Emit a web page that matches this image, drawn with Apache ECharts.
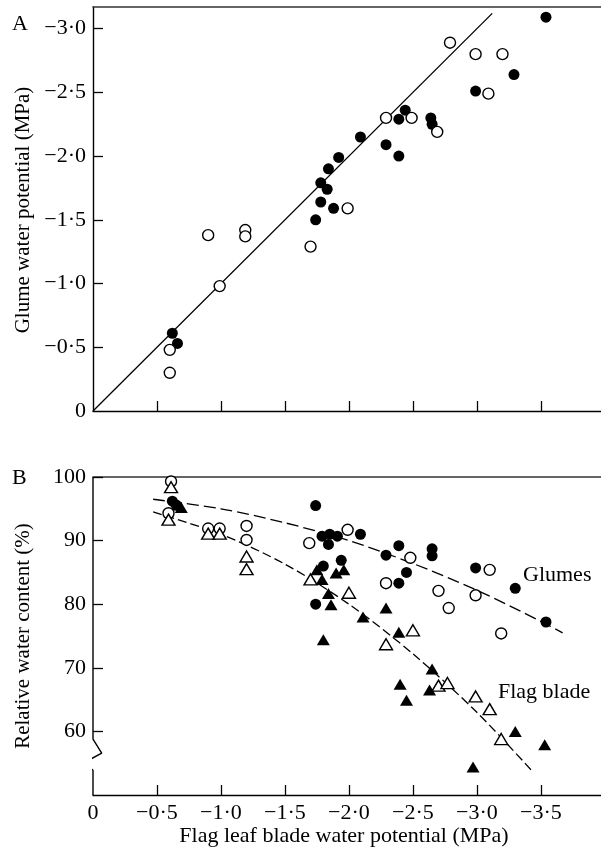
<!DOCTYPE html>
<html><head><meta charset="utf-8">
<script src="https://cdn.jsdelivr.net/npm/echarts@6/dist/echarts.min.js"></script>
<style>html,body{margin:0;padding:0;background:#fff}#c{width:601px;height:852px}</style>
</head><body><div id="c"></div>
<script>
// Panel A: flag leaf blade water potential (MPa) vs glume water potential (MPa)
const aFilled = [[-3.54,-3.09],[-3.29,-2.64],[-2.99,-2.51],[-2.44,-2.36],[-2.39,-2.29],[-2.64,-2.30],[-2.65,-2.25],[-2.09,-2.15],[-2.29,-2.09],[-2.39,-2.00],[-1.92,-1.99],[-1.84,-1.90],[-1.78,-1.79],[-1.83,-1.74],[-1.78,-1.64],[-1.88,-1.59],[-1.74,-1.50],[-0.62,-0.61],[-0.66,-0.53]];
const aOpen = [[-2.79,-2.89],[-2.99,-2.80],[-3.20,-2.80],[-3.09,-2.49],[-2.29,-2.30],[-2.49,-2.30],[-2.69,-2.19],[-1.99,-1.59],[-1.70,-1.29],[-0.90,-1.38],[-1.19,-1.42],[-1.19,-1.37],[-0.99,-0.98],[-0.60,-0.48],[-0.60,-0.30]];
const aOneToOne = [[0,0],[-3.12,-3.12]];
// Panel B: flag leaf blade water potential (MPa) vs relative water content (%)
const bGlumeFilled = [[-0.62,96.2],[-0.65,95.6],[-1.74,95.5],[-1.79,90.7],[-1.85,91.0],[-1.91,90.7],[-1.84,89.4],[-2.09,91.0],[-2.39,89.2],[-2.29,87.7],[-2.65,88.7],[-2.65,87.6],[-2.45,85.0],[-2.39,83.3],[-1.94,86.9],[-1.80,86.0],[-1.74,80.0],[-2.99,85.7],[-3.30,82.5],[-3.54,77.2]];
const bGlumeOpen = [[-0.61,99.3],[-0.59,94.3],[-0.90,91.9],[-0.99,91.9],[-1.20,92.3],[-1.20,90.1],[-1.69,89.6],[-1.99,91.7],[-2.48,87.3],[-2.29,83.3],[-2.70,82.1],[-2.78,79.4],[-3.10,85.4],[-2.99,81.4],[-3.19,75.4]];
const bBladeFilled = [[-0.66,95.6],[-0.69,95.2],[-1.75,85.4],[-1.90,84.9],[-1.96,85.4],[-1.79,83.9],[-1.84,81.7],[-1.86,79.9],[-2.29,79.4],[-2.11,78.0],[-1.80,74.4],[-2.39,75.6],[-2.65,69.8],[-2.40,67.4],[-2.63,66.5],[-2.45,64.9],[-3.30,60.0],[-3.53,57.9],[-2.97,54.4]];
const bBladeOpen = [[-0.61,98.4],[-0.59,93.3],[-0.90,91.1],[-0.99,91.1],[-1.20,87.5],[-1.20,85.5],[-1.70,83.9],[-2.00,81.8],[-2.50,75.9],[-2.29,73.7],[-2.70,67.2],[-2.77,67.6],[-2.99,65.5],[-3.10,63.5],[-3.19,58.8]];
const bGlumeCurve = [[-0.47,96.5],[-1.0,95.0],[-1.5,92.8],[-2.0,90.0],[-2.5,86.4],[-3.0,82.2],[-3.5,77.3],[-3.67,75.5]];
const bBladeCurve = [[-0.47,94.5],[-1.0,91.0],[-1.5,86.3],[-2.0,80.0],[-2.5,72.2],[-3.0,63.0],[-3.43,53.8]];
// y-axis with break for panel B (x in MPa, y in %)
const bAxisBreak = [[0,100],[0,58.8],[-0.068,56.6],[0.068,55.1],[0,53.9],[0,50]];
const xTicks = [0,0.5,1,1.5,2,2.5,3,3.5];
const bYTicks = [60,70,80,90,100];

const FONT = 'Liberation Serif';
const FS = 22;
const FSV = 21;
const INK = '#000';
const fmtNeg = v => Math.abs(v) < 1e-9 ? '0' : '\u2212' + Math.abs(v).toFixed(1).replace('.', '\u00b7');
const toA = arr => arr.map(([x,y]) => [-x, -y]);
const toB = arr => arr.map(([x,y]) => [-x, y]);

const chart = echarts.init(document.getElementById('c'), null, {renderer:'canvas'});
const XMAX = 3.97;
const lineAx = {show:true, lineStyle:{color:INK, width:1.4}};
const tickIn = {show:true, inside:true, length:10, lineStyle:{color:INK, width:1.3}};
const lbl = {color:INK, fontFamily:FONT, fontSize:FS};

const filledCircle = {symbol:'circle', symbolSize:11, itemStyle:{color:'#000', opacity:1}};
const openCircle = {symbol:'circle', symbolSize:11, itemStyle:{color:'#fff', borderColor:'#000', borderWidth:1.4, opacity:1}};
const filledTri = {symbol:'triangle', symbolSize:[13,11], itemStyle:{color:'#000', opacity:1}};
const openTri = {symbol:'triangle', symbolSize:[13,11], itemStyle:{color:'#fff', borderColor:'#000', borderWidth:1.4, opacity:1}};

const option = {
  animation:false,
  backgroundColor:'#fff',
  grid:[
    {left:93, top:7, width:508, height:404, outerBoundsMode:'none'},
    {left:93, top:477, width:508, height:318, outerBoundsMode:'none'}
  ],
  xAxis:[
    {gridIndex:0, type:'value', min:0, max:XMAX, interval:0.5, axisLine:lineAx,
     axisTick:{...tickIn, customValues:xTicks.slice(1)}, axisLabel:{show:false}, splitLine:{show:false}},
    {gridIndex:0, type:'value', position:'top', min:0, max:XMAX, axisLine:{show:true, lineStyle:{color:'#333', width:1.6}},
     axisTick:{show:false}, axisLabel:{show:false}, splitLine:{show:false}},
    {gridIndex:1, type:'value', min:0, max:XMAX, interval:0.5, axisLine:lineAx,
     axisTick:{...tickIn, customValues:xTicks.slice(1)},
     axisLabel:{...lbl, margin:7, customValues:xTicks, formatter:fmtNeg}, splitLine:{show:false}},
    {gridIndex:1, type:'value', position:'top', min:0, max:XMAX, axisLine:{show:true, lineStyle:{color:'#333', width:1.6}},
     axisTick:{show:false}, axisLabel:{show:false}, splitLine:{show:false}}
  ],
  yAxis:[
    {gridIndex:0, type:'value', min:0, max:3.17, interval:0.5, axisLine:lineAx,
     axisTick:{...tickIn, customValues:[0.5,1,1.5,2,2.5,3]},
     axisLabel:{...lbl, margin:7, customValues:[0,0.5,1,1.5,2,2.5,3], formatter:fmtNeg}, splitLine:{show:false}},
    {gridIndex:1, type:'value', min:50, max:100, interval:10, axisLine:{show:false},
     axisTick:{...tickIn, customValues:bYTicks},
     axisLabel:{...lbl, margin:7, customValues:bYTicks}, splitLine:{show:false}}
  ],
  graphic:[
    {type:'text', left:12, top:13, style:{text:'A', font:`${FS}px "${FONT}"`, fill:INK}},
    {type:'text', left:12, top:467, style:{text:'B', font:`${FS}px "${FONT}"`, fill:INK}},
    {type:'text', x:23, y:210, rotation:Math.PI/2, style:{text:'Glume water potential (MPa)', font:`${FSV}px "${FONT}"`, fill:INK, align:'center', verticalAlign:'middle'}},
    {type:'text', x:23, y:636, rotation:Math.PI/2, style:{text:'Relative water content (%)', font:`${FSV}px "${FONT}"`, fill:INK, align:'center', verticalAlign:'middle'}},
    {type:'text', x:344, y:836, style:{text:'Flag leaf blade water potential (MPa)', font:`${FS}px "${FONT}"`, fill:INK, align:'center', verticalAlign:'middle'}},
    {type:'text', x:523, y:575, style:{text:'Glumes', font:`${FS}px "${FONT}"`, fill:INK, align:'left', verticalAlign:'middle'}},
    {type:'text', x:498, y:692, style:{text:'Flag blade', font:`${FS}px "${FONT}"`, fill:INK, align:'left', verticalAlign:'middle'}}
  ],
  series:[
    {type:'line', xAxisIndex:0, yAxisIndex:0, data:toA(aOneToOne), symbol:'none', lineStyle:{color:INK, width:1.3}, z:1},
    {type:'scatter', xAxisIndex:0, yAxisIndex:0, data:toA(aFilled), ...filledCircle, z:3},
    {type:'scatter', xAxisIndex:0, yAxisIndex:0, data:toA(aOpen), ...openCircle, z:3},
    {type:'line', xAxisIndex:2, yAxisIndex:1, data:toB(bAxisBreak), symbol:'none', clip:false, lineStyle:{color:INK, width:1.4}, z:5},
    {type:'line', xAxisIndex:2, yAxisIndex:1, data:toB(bGlumeCurve), symbol:'none', smooth:0.3, lineStyle:{color:INK, width:1.3, type:[12,5]}, z:1},
    {type:'line', xAxisIndex:2, yAxisIndex:1, data:toB(bBladeCurve), symbol:'none', smooth:0.3, lineStyle:{color:INK, width:1.3, type:[9,4]}, z:1},
    {type:'scatter', xAxisIndex:2, yAxisIndex:1, data:toB(bGlumeFilled), ...filledCircle, z:3},
    {type:'scatter', xAxisIndex:2, yAxisIndex:1, data:toB(bBladeFilled), ...filledTri, z:3},
    {type:'scatter', xAxisIndex:2, yAxisIndex:1, data:toB(bGlumeOpen), ...openCircle, z:3},
    {type:'scatter', xAxisIndex:2, yAxisIndex:1, data:toB(bBladeOpen), ...openTri, z:3}
  ]
};
chart.setOption(option);
</script></body></html>
